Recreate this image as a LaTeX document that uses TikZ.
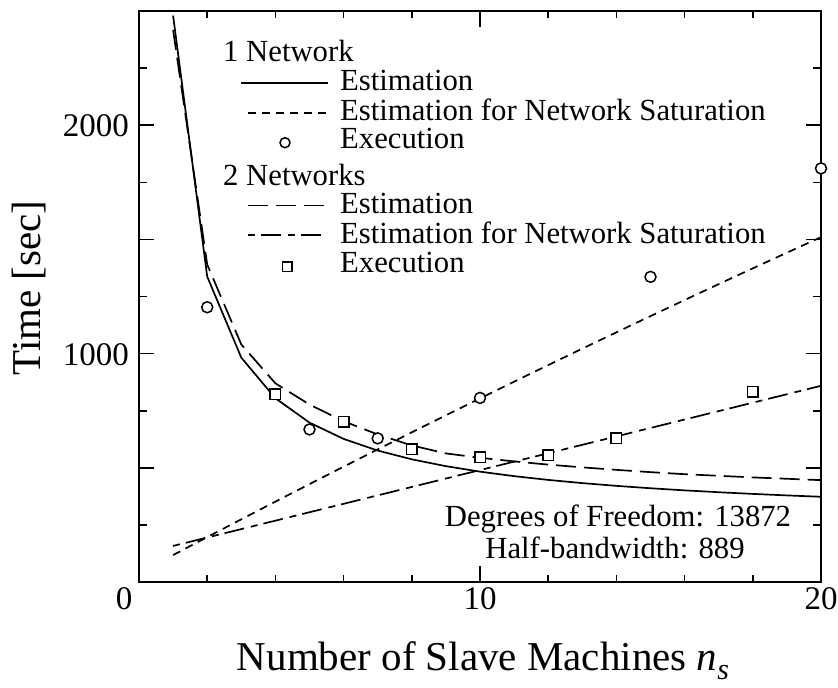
\documentclass[tikz,border=0pt]{standalone}
\usepackage{fontspec}
\setmainfont{Liberation Serif}
\newcommand\txtsize{\fontsize{30.7pt}{36pt}\selectfont}
\newcommand\numsize{\fontsize{33pt}{38pt}\selectfont}
\newcommand\labsize{\fontsize{41pt}{48pt}\selectfont}
\begin{document}
\begin{tikzpicture}[x=1pt,y=-1pt,
  frame/.style={line width=1.8pt},
  tickmark/.style={line width=1.6pt},
  curve/.style={line width=1.7pt, line join=round},
  est one/.style={curve},
  sat one/.style={curve, dash pattern=on 8pt off 6pt},
  est two/.style={curve, dash pattern=on 20pt off 8pt},
  sat two/.style={curve, dash pattern=on 7pt off 6pt on 20pt off 7pt},
  circmark/.style={circle, draw, fill=white, line width=1.5pt, minimum size=11pt, inner sep=0pt},
  sqmark/.style={rectangle, draw, fill=white, line width=1.5pt, minimum size=10.5pt, inner sep=0pt},
  txt/.style={font=\txtsize, inner sep=0pt},
  num/.style={font=\numsize, inner sep=0pt},
  lab/.style={font=\labsize, inner sep=0pt}]

\useasboundingbox (0,0) rectangle (838,688);

% axis frame
\draw[frame] (139,11) rectangle (821,582);

% x ticks (every 2, longer at 10)
\foreach \n in {2,4,...,18}{
  \pgfmathsetmacro\xx{139+34.1*\n}
  \pgfmathsetmacro\len{\n==10 ? 16 : 7}
  \draw[tickmark] (\xx,582) -- ++(0,-\len);
  \draw[tickmark] (\xx,11) -- ++(0,\len);
}
% y ticks (every 250, longer every 500)
\foreach \v in {250,500,...,2250}{
  \pgfmathsetmacro\yy{582-0.2284*\v}
  \pgfmathsetmacro\len{mod(\v,500)==0 ? 15 : 8}
  \draw[tickmark] (139,\yy) -- ++(\len,0);
  \draw[tickmark] (821,\yy) -- ++(-\len,0);
}

% tick labels
\node[num, anchor=base] (x0) at (124,609) {0};
\node[num, anchor=base] (x10) at (480,609) {10};
\node[num, anchor=base] (x20) at (821,609) {20};
\node[num, anchor=east] (y1000) at (129,355) {1000};
\node[num, anchor=east] (y2000) at (129,126) {2000};

% axis titles
\node[lab, anchor=base] (xtitle) at (483,670)
  {Number of Slave Machines \textit{n}\raisebox{-0.22em}{\fontsize{30pt}{32pt}\selectfont\itshape s}};
\node[lab, anchor=base, rotate=90] (ytitle) at (40,288) {Time [sec]};

% data curves and measurements
\begin{scope}[shift={(139pt,-582pt)}, x=34.1pt, y=0.2284pt]
  \draw[sat one] plot[domain=1:20, samples=40] (\x,{38.8+79.45*\x-0.295*\x*\x});
  \draw[sat two] (1,157.9) -- (20,859);
  \draw[est one] (1,2480) -- plot[domain=2:20, samples=19] (\x,{2128/\x+274-0.36*\x});
  \draw[est two] plot coordinates {(1,2417) (2,1390) (3,1040) (4,870) (5,777) (6,704)
    (7,646) (8,598) (9,563) (10,544) (11,528) (12,514) (13,502) (14,491) (15,481)
    (16,472) (17,465) (18,458) (19,452) (20,446)};

  \node[circmark] (c2) at (2,1203) {};
  \node[circmark] (c5) at (5,668) {};
  \node[circmark] (c7) at (7,629) {};
  \node[circmark] (c10) at (10,806) {};
  \node[circmark] (c15) at (15,1336) {};
  \node[circmark] (c20) at (20,1811) {};

  \node[sqmark] (s4) at (4,823) {};
  \node[sqmark] (s6) at (6,702) {};
  \node[sqmark] (s8) at (8,582) {};
  \node[sqmark] (s10) at (10,547) {};
  \node[sqmark] (s12) at (12,556) {};
  \node[sqmark] (s14) at (14,629) {};
  \node[sqmark] (s18) at (18,833) {};
\end{scope}

% legend
\node[txt, anchor=base west] (g1) at (223,61.7) {1 Network};
\draw[est one] (241,83.3) -- (328,83.3);
\node[txt, anchor=base west] (l1) at (340,90.7) {Estimation};
\draw[sat one] (248,112.7) -- (328,112.7);
\node[txt, anchor=base west] (l2) at (340,120) {Estimation for Network Saturation};
\node[circmark, minimum size=10pt] (lc) at (285,142.7) {};
\node[txt, anchor=base west] (l3) at (340,148.5) {Execution};

\node[txt, anchor=base west] (g2) at (223,185) {2 Networks};
\draw[est two] (248,205.5) -- (328,205.5);
\node[txt, anchor=base west] (l4) at (340,213.5) {Estimation};
\draw[sat two] (248,235) -- (328,235);
\node[txt, anchor=base west] (l5) at (340,243) {Estimation for Network Saturation};
\node[sqmark, minimum size=9.5pt] (ls) at (287,266.7) {};
\node[txt, anchor=base west] (l6) at (340,272) {Execution};

% problem size note
\node[txt, anchor=base] (dof) at (618,526) {Degrees of Freedom: 13872};
\node[txt, anchor=base] (hbw) at (615,558) {Half-bandwidth: 889};
\end{tikzpicture}
\end{document}
